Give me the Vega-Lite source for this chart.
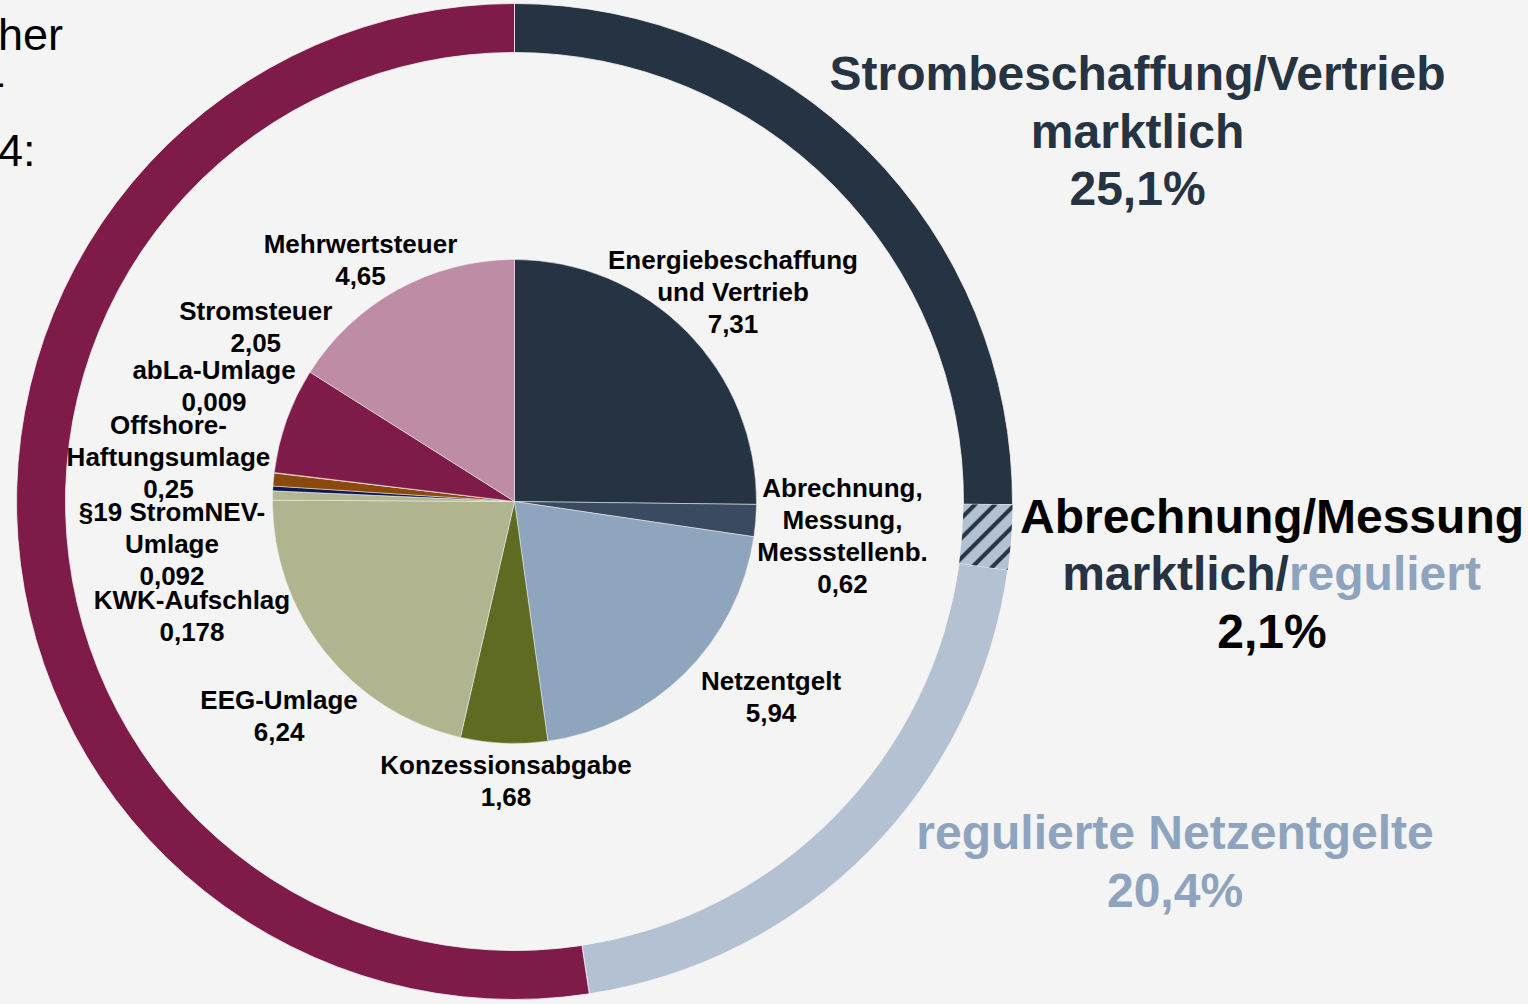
{
  "$schema": "https://vega.github.io/schema/vega-lite/v6.json",
  "width": 1029,
  "height": 1003,
  "autosize": {"type": "none"},
  "padding": {"left": 0, "top": 0, "right": 499, "bottom": 1},
  "background": "#f4f4f4",
  "config": {
    "view": {"stroke": null},
    "font": "Liberation Sans",
    "text": {"fontSize": 26, "fontWeight": "bold", "lineHeight": 32, "lineBreak": "\n", "align": "center", "baseline": "alphabetic", "color": "#000000"}
  },
  "datasets": {
    "pie": [
      {"name": "Energiebeschaffung\nund Vertrieb", "value": 7.31},
      {"name": "Abrechnung,\nMessung,\nMessstellenb.", "value": 0.62},
      {"name": "Netzentgelt", "value": 5.94},
      {"name": "Konzessionsabgabe", "value": 1.68},
      {"name": "EEG-Umlage", "value": 6.24},
      {"name": "KWK-Aufschlag", "value": 0.178},
      {"name": "§19 StromNEV-\nUmlage", "value": 0.092},
      {"name": "Offshore-\nHaftungsumlage", "value": 0.25},
      {"name": "abLa-Umlage", "value": 0.009},
      {"name": "Stromsteuer", "value": 2.05},
      {"name": "Mehrwertsteuer", "value": 4.65}
    ],
    "ring": [
      {"name": "Strombeschaffung/Vertrieb", "sub": "marktlich", "sub2": "", "value": 25.1},
      {"name": "Abrechnung/Messung", "sub": "marktlich/", "sub2": "reguliert", "value": 2.1},
      {"name": "regulierte Netzentgelte", "sub": "", "sub2": "", "value": 20.4},
      {"name": "staatlich", "sub": "", "sub2": "", "value": 52.4}
    ]
  },
  "resolve": {"scale": {"color": "independent"}},
  "layer": [
    {
      "data": {"name": "ring"},
      "transform": [
        {"stack": "value", "groupby": [], "offset": "normalize", "as": ["v0", "v1"]},
        {"calculate": "(datum.v0 + datum.v1) / 2", "as": "mid"},
        {"calculate": "replace(format(datum.value, '.1f'), '.', ',') + '%'", "as": "pct"}
      ],
      "layer": [
        {
          "mark": {"type": "arc", "outerRadius": 498, "innerRadius": 449, "stroke": "#f4f4f4", "strokeWidth": 0.8},
          "encoding": {
            "theta": {"field": "v0", "type": "quantitative", "stack": null, "scale": {"domain": [0, 1]}},
            "theta2": {"field": "v1"},
            "color": {"field": "name", "type": "nominal", "legend": null,
              "scale": {"domain": ["Strombeschaffung/Vertrieb", "Abrechnung/Messung", "regulierte Netzentgelte", "staatlich"],
                        "range": ["#263342", "#b3c1d3", "#b3c1d3", "#7e1b49"]}}
          }
        },
        {
          "transform": [{"filter": {"field": "name", "equal": "Abrechnung/Messung"}}],
          "mark": {"type": "arc", "outerRadius": 498, "innerRadius": 449,
            "fill": {"gradient": "linear", "x1": 0, "y1": 0, "x2": 1, "y2": 1.235,
              "stops": [
                {"offset": 0, "color": "#b3c1d3"},
                {"offset": 0.09, "color": "#b3c1d3"}, {"offset": 0.105, "color": "#263342"}, {"offset": 0.133, "color": "#263342"}, {"offset": 0.148, "color": "#b3c1d3"},
                {"offset": 0.238, "color": "#b3c1d3"}, {"offset": 0.253, "color": "#263342"}, {"offset": 0.281, "color": "#263342"}, {"offset": 0.296, "color": "#b3c1d3"},
                {"offset": 0.386, "color": "#b3c1d3"}, {"offset": 0.401, "color": "#263342"}, {"offset": 0.429, "color": "#263342"}, {"offset": 0.444, "color": "#b3c1d3"},
                {"offset": 0.534, "color": "#b3c1d3"}, {"offset": 0.549, "color": "#263342"}, {"offset": 0.577, "color": "#263342"}, {"offset": 0.592, "color": "#b3c1d3"},
                {"offset": 0.682, "color": "#b3c1d3"}, {"offset": 0.697, "color": "#263342"}, {"offset": 0.725, "color": "#263342"}, {"offset": 0.74, "color": "#b3c1d3"},
                {"offset": 0.83, "color": "#b3c1d3"}, {"offset": 0.845, "color": "#263342"}, {"offset": 0.873, "color": "#263342"}, {"offset": 0.888, "color": "#b3c1d3"},
                {"offset": 0.978, "color": "#b3c1d3"}, {"offset": 0.993, "color": "#263342"}, {"offset": 1, "color": "#263342"}
              ]}},
          "encoding": {
            "theta": {"field": "v0", "type": "quantitative", "stack": null, "scale": {"domain": [0, 1]}},
            "theta2": {"field": "v1"}
          }
        },
        {
          "transform": [
            {"filter": {"field": "name", "equal": "Strombeschaffung/Vertrieb"}},
            {"calculate": "datum.name + '\\n' + datum.sub + '\\n' + datum.pct", "as": "label"}
          ],
          "mark": {"type": "text", "radius": 732, "dx": 103.8, "dy": 104.5, "fontSize": 48, "lineHeight": 57.5, "color": "#263342"},
          "encoding": {
            "theta": {"field": "mid", "type": "quantitative", "stack": null, "scale": {"domain": [0, 1]}},
            "text": {"field": "label"}
          }
        },
        {
          "transform": [{"filter": {"field": "name", "equal": "Abrechnung/Messung"}}],
          "mark": {"type": "text", "radius": 757.8, "dx": 1.7, "dy": -23.2, "fontSize": 48, "color": "#000000"},
          "encoding": {
            "theta": {"field": "mid", "type": "quantitative", "stack": null, "scale": {"domain": [0, 1]}},
            "text": {"field": "name"}
          }
        },
        {
          "transform": [{"filter": {"field": "name", "equal": "Abrechnung/Messung"}}],
          "mark": {"type": "text", "radius": 757.8, "dx": 18.6, "dy": 33.8, "fontSize": 48, "align": "right", "color": "#263342"},
          "encoding": {
            "theta": {"field": "mid", "type": "quantitative", "stack": null, "scale": {"domain": [0, 1]}},
            "text": {"field": "sub"}
          }
        },
        {
          "transform": [{"filter": {"field": "name", "equal": "Abrechnung/Messung"}}],
          "mark": {"type": "text", "radius": 757.8, "dx": 18.6, "dy": 33.8, "fontSize": 48, "align": "left", "color": "#8ea4be"},
          "encoding": {
            "theta": {"field": "mid", "type": "quantitative", "stack": null, "scale": {"domain": [0, 1]}},
            "text": {"field": "sub2"}
          }
        },
        {
          "transform": [{"filter": {"field": "name", "equal": "Abrechnung/Messung"}}],
          "mark": {"type": "text", "radius": 757.8, "dx": 1.7, "dy": 91.8, "fontSize": 48, "color": "#000000"},
          "encoding": {
            "theta": {"field": "mid", "type": "quantitative", "stack": null, "scale": {"domain": [0, 1]}},
            "text": {"field": "pct"}
          }
        },
        {
          "transform": [
            {"filter": {"field": "name", "equal": "regulierte Netzentgelte"}},
            {"calculate": "datum.name + '\\n' + datum.pct", "as": "label"}
          ],
          "mark": {"type": "text", "radius": 714.1, "dx": 152.4, "dy": -154.3, "fontSize": 48, "lineHeight": 58, "color": "#8ea4be"},
          "encoding": {
            "theta": {"field": "mid", "type": "quantitative", "stack": null, "scale": {"domain": [0, 1]}},
            "text": {"field": "label"}
          }
        }
      ]
    },
    {
      "data": {"name": "pie"},
      "transform": [
        {"stack": "value", "groupby": [], "offset": "normalize", "as": ["v0", "v1"]},
        {"calculate": "(datum.v0 + datum.v1) / 2", "as": "mid"},
        {"calculate": "datum.name + '\\n' + replace(toString(datum.value), '.', ',')", "as": "label"}
      ],
      "layer": [
        {
          "mark": {"type": "arc", "outerRadius": 242, "stroke": "#f4f4f4", "strokeWidth": 0.5},
          "encoding": {
            "theta": {"field": "v0", "type": "quantitative", "stack": null, "scale": {"domain": [0, 1]}},
            "theta2": {"field": "v1"},
            "color": {"field": "name", "type": "nominal", "legend": null,
              "scale": {"domain": ["Energiebeschaffung\nund Vertrieb", "Abrechnung,\nMessung,\nMessstellenb.", "Netzentgelt", "Konzessionsabgabe", "EEG-Umlage", "KWK-Aufschlag", "§19 StromNEV-\nUmlage", "Offshore-\nHaftungsumlage", "abLa-Umlage", "Stromsteuer", "Mehrwertsteuer"],
                        "range": ["#263342", "#3a4a60", "#8ea5bd", "#5f6b22", "#b0b48f", "#b3b792", "#0c1850", "#8a4a0e", "#c07020", "#7e1b49", "#bf8ca5"]}}
          }
        },
        {
          "transform": [{"filter": {"field": "name", "equal": "Energiebeschaffung\nund Vertrieb"}}],
          "mark": {"type": "text", "radius": 318.8, "dx": -8.3, "dy": -8.4},
          "encoding": {"theta": {"field": "mid", "type": "quantitative", "stack": null, "scale": {"domain": [0, 1]}}, "text": {"field": "label"}}
        },
        {
          "transform": [{"filter": {"field": "name", "equal": "Abrechnung,\nMessung,\nMessstellenb."}}],
          "mark": {"type": "text", "radius": 326.6, "dx": 2.4, "dy": -30.5},
          "encoding": {"theta": {"field": "mid", "type": "quantitative", "stack": null, "scale": {"domain": [0, 1]}}, "text": {"field": "label"}}
        },
        {
          "transform": [{"filter": {"field": "name", "equal": "Netzentgelt"}}],
          "mark": {"type": "text", "radius": 314.5, "dx": 35.0, "dy": -34.7},
          "encoding": {"theta": {"field": "mid", "type": "quantitative", "stack": null, "scale": {"domain": [0, 1]}}, "text": {"field": "label"}}
        },
        {
          "transform": [{"filter": {"field": "name", "equal": "Konzessionsabgabe"}}],
          "mark": {"type": "text", "radius": 272.6, "dx": 3.3, "dy": 0.2},
          "encoding": {"theta": {"field": "mid", "type": "quantitative", "stack": null, "scale": {"domain": [0, 1]}}, "text": {"field": "label"}}
        },
        {
          "transform": [{"filter": {"field": "name", "equal": "EEG-Umlage"}}],
          "mark": {"type": "text", "radius": 313.4, "dx": 10.2, "dy": 12.9},
          "encoding": {"theta": {"field": "mid", "type": "quantitative", "stack": null, "scale": {"domain": [0, 1]}}, "text": {"field": "label"}}
        },
        {
          "transform": [{"filter": {"field": "name", "equal": "KWK-Aufschlag"}}],
          "mark": {"type": "text", "radius": 319.7, "dx": -2.9, "dy": 115.4},
          "encoding": {"theta": {"field": "mid", "type": "quantitative", "stack": null, "scale": {"domain": [0, 1]}}, "text": {"field": "label"}}
        },
        {
          "transform": [{"filter": {"field": "name", "equal": "§19 StromNEV-\nUmlage"}}],
          "mark": {"type": "text", "radius": 341, "dx": -2.0, "dy": 37.9},
          "encoding": {"theta": {"field": "mid", "type": "quantitative", "stack": null, "scale": {"domain": [0, 1]}}, "text": {"field": "label"}}
        },
        {
          "transform": [{"filter": {"field": "name", "equal": "Offshore-\nHaftungsumlage"}}],
          "mark": {"type": "text", "radius": 350.7, "dx": 3.2, "dy": -35.6},
          "encoding": {"theta": {"field": "mid", "type": "quantitative", "stack": null, "scale": {"domain": [0, 1]}}, "text": {"field": "label"}}
        },
        {
          "transform": [{"filter": {"field": "name", "equal": "abLa-Umlage"}}],
          "mark": {"type": "text", "radius": 312.9, "dx": 10.2, "dy": -85.3},
          "encoding": {"theta": {"field": "mid", "type": "quantitative", "stack": null, "scale": {"domain": [0, 1]}}, "text": {"field": "label"}}
        },
        {
          "transform": [{"filter": {"field": "name", "equal": "Stromsteuer"}}],
          "mark": {"type": "text", "radius": 304.6, "dx": 28.2, "dy": -79.3},
          "encoding": {"theta": {"field": "mid", "type": "quantitative", "stack": null, "scale": {"domain": [0, 1]}}, "text": {"field": "label"}}
        },
        {
          "transform": [{"filter": {"field": "name", "equal": "Mehrwertsteuer"}}],
          "mark": {"type": "text", "radius": 291.7, "dx": -13.3, "dy": 7.3},
          "encoding": {"theta": {"field": "mid", "type": "quantitative", "stack": null, "scale": {"domain": [0, 1]}}, "text": {"field": "label"}}
        }
      ]
    },
    {
      "data": {"values": [{"a": "her", "b": "-", "c": "4:"}]},
      "layer": [
        {"mark": {"type": "text", "x": -2, "y": 50, "align": "left", "fontSize": 45, "fontWeight": "normal"}, "encoding": {"text": {"field": "a"}}},
        {"mark": {"type": "text", "x": -10, "y": 97, "align": "left", "fontSize": 45, "fontWeight": "normal"}, "encoding": {"text": {"field": "b"}}},
        {"mark": {"type": "text", "x": -2, "y": 166, "align": "left", "fontSize": 45, "fontWeight": "normal"}, "encoding": {"text": {"field": "c"}}}
      ]
    }
  ]
}
